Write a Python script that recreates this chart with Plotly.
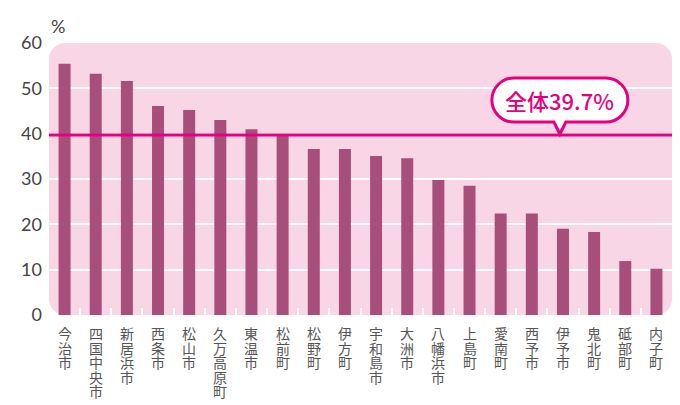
import plotly.graph_objects as go

categories = ["今治市", "四国中央市", "新居浜市", "西条市", "松山市", "久万高原町", "東温市",
              "松前町", "松野町", "伊方町", "宇和島市", "大洲市", "八幡浜市", "上島町",
              "愛南町", "西予市", "伊予市", "鬼北町", "砥部町", "内子町"]
values = [55.4, 53.2, 51.6, 46.1, 45.2, 43.0, 41.0, 39.5, 36.6, 36.6,
          35.1, 34.6, 29.8, 28.5, 22.4, 22.4, 19.0, 18.3, 11.9, 10.2]
overall = 39.7
y_ticks = [0, 10, 20, 30, 40, 50, 60]
unit_label = "%"

BAR = "#A84E7B"
BG = "#F9D6E5"
MAG = "#E6007E"
TXT = "#444444"

fig = go.Figure()
fig.add_trace(go.Bar(x=categories, y=values, marker=dict(color=BAR, line=dict(width=0)),
                     hoverinfo="x+y"))

# rounded pink background
W, H = 623.0, 272.0
r = 16.0
rx, ry = r / W, r / H
k = 0.5523
path = (f"M {rx},0 L {1-rx},0 C {1-rx+k*rx},0 1,{ry-k*ry} 1,{ry} "
        f"L 1,{1-ry} C 1,{1-ry+k*ry} {1-rx+k*rx},1 {1-rx},1 "
        f"L {rx},1 C {rx-k*rx},1 0,{1-ry+k*ry} 0,{1-ry} "
        f"L 0,{ry} C 0,{ry-k*ry} {rx-k*rx},0 {rx},0 Z")
shapes = [dict(type="path", xref="paper", yref="paper", path=path,
               fillcolor=BG, line=dict(width=0), layer="below")]

# overall line
shapes.append(dict(type="line", xref="paper", yref="y", x0=0, x1=1, y0=overall, y1=overall,
                   line=dict(color=MAG, width=3), layer="above"))

# callout bubble (pixel sized, anchored on the overall line)
hw, hh, rr = 68, 22, 22
b = 13
c = k * rr
bub = (f"M -6,{b} L 0,1 L 6,{b} L {hw-rr},{b} "
       f"C {hw-rr+c},{b} {hw},{b+rr-c} {hw},{b+rr} "
       f"C {hw},{b+rr+c} {hw-rr+c},{b+2*hh} {hw-rr},{b+2*hh} "
       f"L {-(hw-rr)},{b+2*hh} "
       f"C {-(hw-rr)-c},{b+2*hh} {-hw},{b+rr+c} {-hw},{b+rr} "
       f"C {-hw},{b+rr-c} {-(hw-rr)-c},{b} {-(hw-rr)},{b} Z")
bx = 0.82
shapes.append(dict(type="path", xref="paper", yref="y", xsizemode="pixel", ysizemode="pixel",
                   xanchor=bx, yanchor=overall, path=bub, fillcolor="white",
                   line=dict(color=MAG, width=3), layer="above"))

annotations = [dict(xref="paper", yref="y", x=bx, y=overall, yshift=b + hh, showarrow=False,
                    text=f"全体{overall}%", xanchor="center", yanchor="middle",
                    font=dict(family="Noto Sans CJK JP", size=22, color=MAG, weight=500)),
               dict(xref="paper", yref="paper", x=0, y=1, xshift=0, yshift=17, showarrow=False,
                    text=unit_label, xanchor="left", yanchor="middle",
                    font=dict(family="Lato", size=18, color=TXT))]

# vertical category labels, one character per line
for cat in categories:
    for j, ch in enumerate(cat):
        annotations.append(dict(xref="x", yref="paper", x=cat, y=0, yshift=-(18 + 14.6 * j),
                                showarrow=False, text=ch, xanchor="center", yanchor="middle",
                                font=dict(family="Noto Sans CJK JP", size=14, color="#555555")))

fig.update_layout(
    width=672, height=397,
    margin=dict(l=41, r=8, t=35, b=90, autoexpand=False),
    paper_bgcolor="white", plot_bgcolor="rgba(0,0,0,0)",
    bargap=0.615, showlegend=False,
    shapes=shapes, annotations=annotations,
    xaxis=dict(showticklabels=False, ticks="inside", tickson="boundaries", ticklen=7,
               tickwidth=2, tickcolor="white", showgrid=False, showline=False, zeroline=False,
               automargin=False),
    yaxis=dict(range=[0, 60], tickvals=y_ticks, showgrid=True, gridcolor="white", gridwidth=2,
               zeroline=False, showline=False, ticks="", ticklabelstandoff=6, automargin=False,
               tickfont=dict(family="Lato", size=18, color=TXT)),
)

fig.write_html("out.html")
